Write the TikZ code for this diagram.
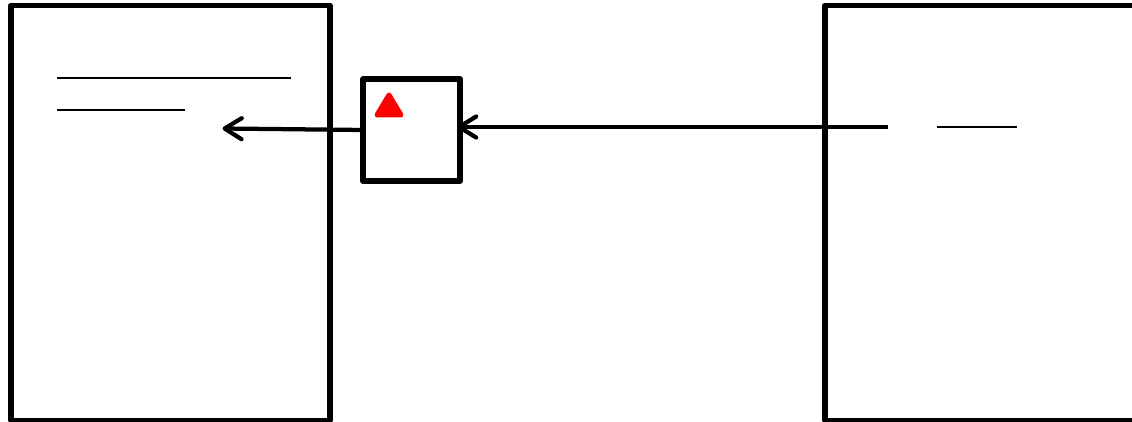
\documentclass[tikz,border=0pt]{standalone}
\usetikzlibrary{arrows.meta}
\tikzset{panel/.style={draw, line width=0.115cm, line join=round, inner sep=0pt, outer sep=0pt, anchor=north west},
    link/.style={line width=0.085cm, -{Straight Barb[length=0.34cm, width=0.42cm, round]}},
    rule/.style={line width=0.04cm}}

\begin{document}
\begin{tikzpicture}[x=0.02cm, y=-0.02cm]
    \clip (0,0) rectangle (1132,422);
    \node[panel, minimum width=6.38cm, minimum height=8.3cm] (leftpanel) at (11,5.5) {};
    \node[panel, minimum width=8cm, minimum height=8.3cm] (rightpanel) at (825,5.5) {};
    \node[panel, minimum width=1.94cm, minimum height=2.04cm] (midbox) at (363,79) {};
    \coordinate (leftend) at (222.5,128.5);
    \coordinate (rightstart) at (888,127);
    \coordinate (midin) at (457,127);
    \draw[link] (midbox.west) -- (leftend);
    \draw[link] (rightstart) -- (midin);
    %rules
    \draw[rule] (57,78.5) -- (291,78.5);
    \draw[rule] (57,110.5) -- (185,110.5);
    \draw[rule] (937,127.5) -- (1017,127.5);
    \filldraw[red, line width=0.1cm, line join=round] (389,95) -- (377,115) -- (401,115) -- cycle;
\end{tikzpicture}
\end{document}
